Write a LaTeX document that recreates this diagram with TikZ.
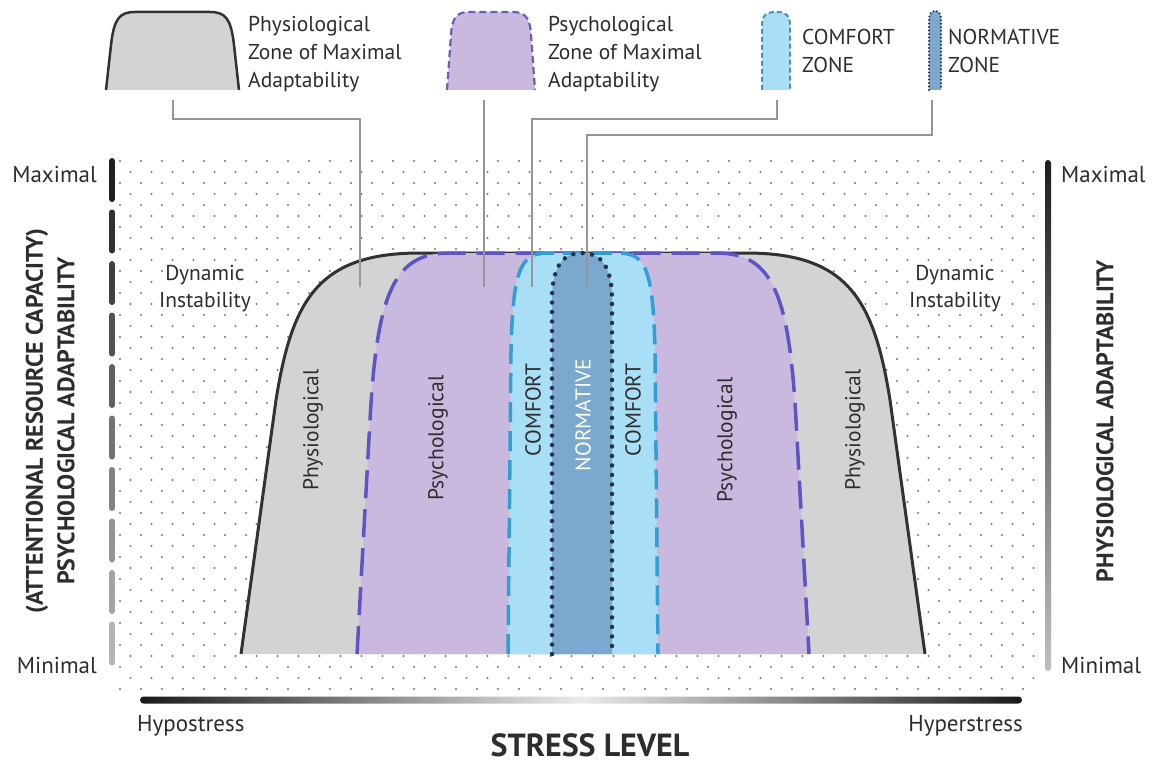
\documentclass[tikz,border=0pt]{standalone}
\usepackage{fontspec}
\setmainfont{PT Sans}
\definecolor{txt}{RGB}{45,45,45}
\definecolor{physfill}{RGB}{211,211,211}
\definecolor{physline}{RGB}{50,50,50}
\definecolor{psyfill}{RGB}{201,185,222}
\definecolor{psyline}{RGB}{94,84,196}
\definecolor{comffill}{RGB}{168,223,246}
\definecolor{comfline}{RGB}{50,158,214}
\definecolor{normfill}{RGB}{122,168,206}
\definecolor{normline}{RGB}{40,50,70}
\definecolor{leader}{RGB}{150,150,150}
\definecolor{dotc}{RGB}{120,120,120}
\tikzset{
  lbl/.style={text=txt, font=\fontsize{21.5}{25}\selectfont, inner sep=0pt},
  axlbl/.style={text=txt, font=\fontsize{23}{27}\selectfont, inner sep=0pt},
  axtitle/.style={text=txt, font=\fontsize{24}{28}\selectfont\bfseries, inner sep=0pt},
  physedge/.style={draw=physline, line width=3pt, line join=round},
  psyedge/.style={draw=psyline, line width=3.5pt, dash pattern=on 28pt off 11pt},
  comfedge/.style={draw=comfline, line width=3.5pt, dash pattern=on 20pt off 9pt},
  normedge/.style={draw=normline, line width=4.5pt, line cap=round, dash pattern=on 0pt off 9.5pt},
  leaderline/.style={draw=leader, line width=1.4pt},
}
\begin{document}
\begin{tikzpicture}[x=1pt,y=-1pt]
\useasboundingbox (0,0) rectangle (1153,765);
\fill[white] (0,0) rectangle (1153,765);

% staggered dot field behind the chart
\foreach \r in {0,...,48} {
  \pgfmathsetmacro\yy{161+11*\r}
  \pgfmathsetmacro\off{mod(\r,2)*10.5}
  \foreach \c in {0,...,43} {
    \fill[dotc] ({120+\off+21*\c},\yy) circle (1.15);
  }
}

% zone outlines (open at the bottom)
\def\physpath{(241,654) -- (276,400) .. controls (292,300) and (318,253) .. (420,253) -- (746,253) .. controls (848,253) and (874,300) .. (890,400) -- (925,654)}
\def\psypath{(357,654) -- (370,420) .. controls (377,290) and (395,253) .. (450,253) -- (716,253) .. controls (771,253) and (789,290) .. (796,420) -- (809,654)}
\def\comfpath{(508,654) -- (511,350) .. controls (513,270) and (520,253) .. (548,253) -- (618,253) .. controls (646,253) and (653,270) .. (655,350) -- (658,654)}
\def\normpath{(552,654) -- (552,300) .. controls (552,262) and (566,253) .. (582,253) .. controls (598,253) and (612,262) .. (612,300) -- (612,654)}

\fill[physfill] \physpath -- cycle;
\draw[physedge] \physpath;
\fill[psyfill] \psypath -- cycle;
\draw[psyedge] \psypath;
\fill[comffill] \comfpath -- cycle;
\draw[comfedge] \comfpath;
\fill[normfill] \normpath -- cycle;
\draw[normedge] \normpath;

% zone labels
\node[lbl, rotate=90] (physL) at (313,430) {Physiological};
\node[lbl, rotate=90] (physR) at (855,430) {Physiological};
\node[lbl, rotate=90] (psyL) at (438,438) {Psychological};
\node[lbl, rotate=90] (psyR) at (727,440) {Psychological};
\node[lbl, rotate=90] (comfL) at (533,410) {COMFORT};
\node[lbl, rotate=90] (comfR) at (633,410) {COMFORT};
\node[lbl, rotate=90, text=white] (normC) at (583,415) {NORMATIVE};

% dynamic instability labels
\node[lbl, fill=white, inner sep=2pt, anchor=base] (dynL1) at (205,280) {Dynamic};
\node[lbl, fill=white, inner sep=2pt, anchor=base] (dynL2) at (205,307) {Instability};
\node[lbl, fill=white, inner sep=2pt, anchor=base] (dynR1) at (955,280) {Dynamic};
\node[lbl, fill=white, inner sep=2pt, anchor=base] (dynR2) at (955,307) {Instability};

% legend icons
\def\physicon{(106,90) -- (111,45) .. controls (114,18) and (120,12) .. (135,12) -- (210,12) .. controls (225,12) and (231,18) .. (234,45) -- (239,90)}
\def\psyicon{(447,90) -- (451,35) .. controls (452,16) and (458,12) .. (470,12) -- (512,12) .. controls (524,12) and (530,16) .. (531,35) -- (535,90)}
\def\comficon{(762,90) -- (762,25) .. controls (762,14) and (768,12) .. (776,12) .. controls (784,12) and (790,14) .. (790,25) -- (790,90)}
\def\normicon{(929,90) -- (929,20) .. controls (929,13) and (932,11) .. (935,11) .. controls (938,11) and (941,13) .. (941,20) -- (941,90)}
\fill[physfill] \physicon -- cycle;
\draw[physline, line width=2.5pt, line join=round] \physicon;
\fill[psyfill] \psyicon -- cycle;
\draw[psyline!70!gray, line width=2.2pt, dash pattern=on 7pt off 4pt] \psyicon;
\fill[comffill] \comficon -- cycle;
\draw[comfline!70!gray, line width=2pt, dash pattern=on 5pt off 3pt] \comficon;
\fill[normfill] \normicon -- cycle;
\draw[normline, line width=2.2pt, line cap=round, dash pattern=on 0pt off 3.5pt] \normicon;

% legend texts
\node[lbl, anchor=base west] (lgPhys1) at (248,32) {Physiological};
\node[lbl, anchor=base west] (lgPhys2) at (248,60) {Zone of Maximal};
\node[lbl, anchor=base west] (lgPhys3) at (248,88) {Adaptability};
\node[lbl, anchor=base west] (lgPsy1) at (548,32) {Psychological};
\node[lbl, anchor=base west] (lgPsy2) at (548,60) {Zone of Maximal};
\node[lbl, anchor=base west] (lgPsy3) at (548,88) {Adaptability};
\node[lbl, anchor=base west] (lgComf1) at (802,45) {COMFORT};
\node[lbl, anchor=base west] (lgComf2) at (802,73) {ZONE};
\node[lbl, anchor=base west] (lgNorm1) at (948,45) {NORMATIVE};
\node[lbl, anchor=base west] (lgNorm2) at (948,73) {ZONE};

% leader lines from legend icons into the zones
\coordinate (physIcon) at (173,100);
\coordinate (psyIcon) at (484,100);
\coordinate (comfIcon) at (777,100);
\coordinate (normIcon) at (932,100);
\coordinate (physTip) at (360,287);
\coordinate (psyTip) at (484,287);
\coordinate (comfTip) at (532,287);
\coordinate (normTip) at (587,287);
\draw[leaderline] (physIcon) -- ++(0,19) -| (physTip);
\draw[leaderline] (psyIcon) -- (psyTip);
\draw[leaderline] (comfIcon) -- ++(0,19) -| (comfTip);
\draw[leaderline] (normIcon) -- ++(0,35) -| (normTip);

% left axis: dashed bar fading from dark to light
\foreach \i in {0,...,9} {
  \pgfmathtruncatemacro\shadeval{88-6.5*\i}
  \draw[line width=6pt, line cap=round, black!\shadeval] (112,{161+51.5*\i}) -- (112,{199+51.5*\i});
}
% right axis: solid bar fading from dark to light
\shade[top color=black!88, bottom color=black!25, rounded corners=3pt] (1045,160) rectangle (1051,671);
% stress axis: dark ends, light middle
\shade[left color=black!90, right color=black!90, middle color=black!8, rounded corners=3.5pt] (140,696.5) rectangle (1022,703.5);

% axis labels
\node[axlbl, anchor=base east] (lMax) at (97,182) {Maximal};
\node[axlbl, anchor=base east] (lMin) at (97,673) {Minimal};
\node[axlbl, anchor=base west] (rMax) at (1061,182) {Maximal};
\node[axlbl, anchor=base west] (rMin) at (1061,673) {Minimal};
\node[axtitle, rotate=90] (lTitle1) at (37,421) {(ATTENTIONAL RESOURCE CAPACITY)};
\node[axtitle, rotate=90] (lTitle2) at (66,421) {PSYCHOLOGICAL ADAPTABILITY};
\node[axtitle, rotate=90] (rTitle) at (1105,421) {PHYSIOLOGICAL ADAPTABILITY};
\node[axlbl, anchor=base west] (hypo) at (137,731) {Hypostress};
\node[axlbl, anchor=base east] (hyper) at (1023,731) {Hyperstress};
\node[text=txt, font=\fontsize{32}{36}\selectfont\bfseries, inner sep=0pt, anchor=base] (stress) at (590,756) {STRESS LEVEL};
\end{tikzpicture}
\end{document}
